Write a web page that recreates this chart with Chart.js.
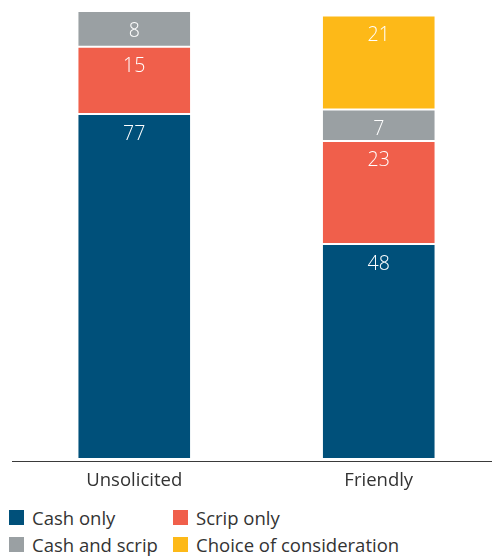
<!DOCTYPE html>
<html>
<head>
<meta charset="utf-8">
<script src="https://cdn.jsdelivr.net/npm/chart.js@4"></script>
<style>
  html, body { margin:0; padding:0; background:#fff; width:492px; height:557px; overflow:hidden; }
  #wrap { position:absolute; left:0; top:0; width:502px; height:495px; }
  #legend { position:absolute; left:9px; top:507px; display:grid; grid-template-columns:164px 260px; row-gap:7px;
            font-family:"Open Sans", sans-serif; font-size:18.5px; color:#333; }
  .item { display:flex; align-items:center; height:20px; white-space:nowrap; }
  .box { width:15px; height:15px; margin-right:8px; flex:none; }
</style>
</head>
<body>
<div id="wrap"><canvas id="c"></canvas></div>
<div id="legend"></div>
<script>
const categories = ['Unsolicited', 'Friendly'];
const seriesNames = ['Cash only', 'Scrip only', 'Cash and scrip', 'Choice of consideration'];
const cashOnly = [77, 48];
const scripOnly = [15, 23];
const cashAndScrip = [8, 7];
const choiceOfConsideration = [null, 21];
const seriesColors = ['#00507A', '#F05F4B', '#9AA0A3', '#FDB918'];

const seriesValues = [cashOnly, scripOnly, cashAndScrip, choiceOfConsideration];

const datasets = seriesValues.map((vals, i) => ({
  label: seriesNames[i],
  data: vals,
  backgroundColor: seriesColors[i],
  borderColor: '#ffffff',
  borderWidth: { top: 1, bottom: 1, left: 0, right: 0 },
  borderSkipped: false,
  categoryPercentage: 1,
  barPercentage: 0.458
}));

const valueLabels = {
  id: 'valueLabels',
  afterDatasetsDraw(chart) {
    const ctx = chart.ctx;
    ctx.save();
    ctx.font = '300 19.5px "Open Sans", sans-serif';
    ctx.fillStyle = '#ffffff';
    ctx.textAlign = 'center';
    ctx.textBaseline = 'middle';
    chart.data.datasets.forEach((ds, di) => {
      const meta = chart.getDatasetMeta(di);
      meta.data.forEach((bar, i) => {
        const v = ds.data[i];
        if (v === null || v === undefined || v === 0) return;
        ctx.fillText(String(v), bar.x, bar.y + 20);
      });
    });
    ctx.restore();
  }
};

const canvas = document.getElementById('c');
canvas.width = 502; canvas.height = 495;
new Chart(canvas, {
  type: 'bar',
  data: { labels: categories, datasets },
  options: {
    responsive: false,
    animation: false,
    devicePixelRatio: 1,
    layout: { padding: { left: 12, right: 1, top: 6.5, bottom: 0 } },
    plugins: { legend: { display: false }, tooltip: { enabled: false } },
    scales: {
      x: {
        stacked: true,
        grid: { display: false, drawTicks: false },
        border: { display: true, color: '#3a3a3a', width: 1 },
        ticks: { color: '#333', padding: 9, font: { family: '"Open Sans", sans-serif', size: 18.5 } },
        afterFit(scale) { scale.height = 34; }
      },
      y: {
        stacked: true,
        display: false,
        min: -0.449,
        max: 101
      }
    }
  },
  plugins: [valueLabels]
});

const legend = document.getElementById('legend');
seriesNames.forEach((name, i) => {
  const item = document.createElement('div');
  item.className = 'item';
  const box = document.createElement('span');
  box.className = 'box';
  box.style.background = seriesColors[i];
  const txt = document.createElement('span');
  txt.textContent = name;
  item.appendChild(box); item.appendChild(txt);
  legend.appendChild(item);
});
</script>
</body>
</html>
